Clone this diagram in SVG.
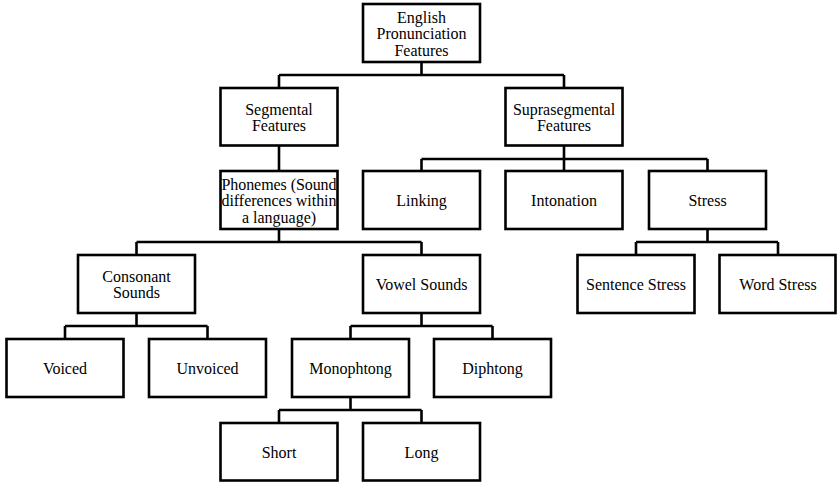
<svg xmlns="http://www.w3.org/2000/svg" width="837" height="482" viewBox="0 0 837 482">
<style>
rect{fill:#fff;stroke:#000;stroke-width:2.6}
text{font-family:'Liberation Serif','Times New Roman',serif;font-size:16px;fill:#000;text-anchor:middle}
#connectors path{fill:none;stroke:#000;stroke-width:2.6}
</style>
<rect x="0" y="0" width="837" height="482" style="stroke:none"/>
<g id="connectors">
<path d="M421.5 63V75M279 75H564M279 75V87M564 75V87"/>
<path d="M279 146V170"/>
<path d="M564 146V159M421.5 159H707.5M421.5 159V170M564 159V170M707.5 159V170"/>
<path d="M279 230V242M136.5 242H421.5M136.5 242V254M421.5 242V254"/>
<path d="M707.5 230V242M636 242H778M636 242V254M778 242V254"/>
<path d="M136.5 314V326M65 326H207.5M65 326V338M207.5 326V338"/>
<path d="M421.5 314V326M350.5 326H492.5M350.5 326V338M492.5 326V338"/>
<path d="M350.5 398V410M279 410H421.5M279 410V422M421.5 410V422"/>
</g>
<g id="root"><rect x="363" y="4" width="117" height="58"/><text x="421.5" y="22.5">English</text><text x="421.5" y="39">Pronunciation</text><text x="421.5" y="55.5">Features</text></g>
<g id="segmental"><rect x="220.5" y="88" width="117" height="57.5"/><text x="279" y="114.5">Segmental</text><text x="279" y="130.5">Features</text></g>
<g id="suprasegmental"><rect x="505.5" y="88" width="117" height="57.5"/><text x="564" y="114.5">Suprasegmental</text><text x="564" y="130.5">Features</text></g>
<g id="phonemes"><rect x="220.5" y="171" width="117" height="58"/><text x="279" y="189.5" textLength="115" lengthAdjust="spacing">Phonemes (Sound</text><text x="279" y="206" textLength="115" lengthAdjust="spacing">differences within</text><text x="279" y="222.5">a language)</text></g>
<g id="linking"><rect x="363" y="171" width="117" height="58"/><text x="421.5" y="205.5">Linking</text></g>
<g id="intonation"><rect x="505.5" y="171" width="117" height="58"/><text x="564" y="205.5">Intonation</text></g>
<g id="stress"><rect x="649" y="171" width="117" height="58"/><text x="707.5" y="205.5">Stress</text></g>
<g id="consonant"><rect x="78" y="255" width="117" height="58"/><text x="136.5" y="281.5">Consonant</text><text x="136.5" y="297.5">Sounds</text></g>
<g id="vowel"><rect x="363" y="255" width="117" height="58"/><text x="421.5" y="289.5">Vowel Sounds</text></g>
<g id="sentence-stress"><rect x="577.5" y="255" width="117" height="58"/><text x="636" y="289.5">Sentence Stress</text></g>
<g id="word-stress"><rect x="719.5" y="255" width="116" height="58"/><text x="778" y="289.5">Word Stress</text></g>
<g id="voiced"><rect x="6.5" y="339" width="117" height="58"/><text x="65" y="373.5">Voiced</text></g>
<g id="unvoiced"><rect x="149" y="339" width="117" height="58"/><text x="207.5" y="373.5">Unvoiced</text></g>
<g id="monophtong"><rect x="292" y="339" width="117" height="58"/><text x="350.5" y="373.5">Monophtong</text></g>
<g id="diphtong"><rect x="434" y="339" width="117" height="58"/><text x="492.5" y="373.5">Diphtong</text></g>
<g id="short"><rect x="220.5" y="423" width="117" height="57.5"/><text x="279" y="457.5">Short</text></g>
<g id="long"><rect x="363" y="423" width="117" height="57.5"/><text x="421.5" y="457.5">Long</text></g>
</svg>
